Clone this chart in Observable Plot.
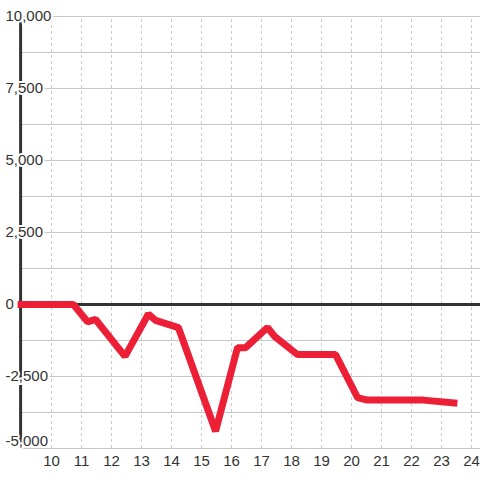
<!DOCTYPE html>
<html>
<head>
<meta charset="utf-8">
<script src="https://cdn.jsdelivr.net/npm/d3@7"></script>
<script src="https://cdn.jsdelivr.net/npm/@observablehq/plot@0.6"></script>
<style>
  html, body { margin: 0; padding: 0; background: #fff; }
</style>
</head>
<body>
<div id="chart"></div>
<script>
// Series (x = hour, y = value)
const xs = [8.87, 10.73, 11.2, 11.47, 12.45, 13.23, 13.47, 14.23, 15.47, 16.2, 16.47, 17.2, 17.43, 18.2, 19.47, 20.2, 20.53, 22.4, 23.53];
const ys = [0, 0, -600, -520, -1800, -330, -550, -800, -4400, -1500, -1500, -800, -1100, -1740, -1740, -3230, -3320, -3320, -3430];

// Axes
const xTicks = [10, 11, 12, 13, 14, 15, 16, 17, 18, 19, 20, 21, 22, 23, 24];
const yGrid = [-5000, -3750, -2500, -1250, 0, 1250, 2500, 3750, 5000, 6250, 7500, 8750, 10000];
const yLabels = [-5000, -2500, 0, 2500, 5000, 7500, 10000];
const xDomain = [8.3, 24.3];
const yDomain = [-5000, 10000];
const yAxisAt = 8.97;

const data = xs.map((x, i) => ({x, y: ys[i]}));
const fmt = d => d.toLocaleString("en-US");
const ink = "#333";

const chart = Plot.plot({
  width: 480,
  height: 480,
  marginLeft: 0,
  marginRight: 0,
  marginTop: 16,
  marginBottom: 32,
  style: {background: "#fff", fontFamily: "Liberation Sans, Arial, sans-serif", fontSize: "15px"},
  x: {domain: xDomain, axis: null},
  y: {domain: yDomain, axis: null},
  marks: [
    Plot.ruleY(yGrid, {x1: yAxisAt, x2: xDomain[1], stroke: "#c8c8c8", strokeWidth: 1}),
    Plot.ruleX(xTicks, {y1: yDomain[0], y2: yDomain[1], stroke: "#cccccc", strokeWidth: 1, strokeDasharray: "3,3"}),
    Plot.ruleX([yAxisAt], {y1: yDomain[0], y2: yDomain[1], stroke: ink, strokeWidth: 3}),
    Plot.ruleY([0], {x1: yAxisAt, x2: xDomain[1], stroke: ink, strokeWidth: 3}),
    Plot.line(data, {x: "x", y: "y", stroke: "#ec1f37", strokeWidth: 7, strokeLinejoin: "miter", strokeLinecap: "butt"}),
    Plot.text(yLabels.filter(d => d > yDomain[0]), {y: d => d, text: fmt, frameAnchor: "left", dx: 5, textAnchor: "start", lineAnchor: "middle", fill: ink, stroke: "white", strokeWidth: 4, fontSize: 15}),
    Plot.text(yLabels.filter(d => d === yDomain[0]), {y: d => d, text: fmt, frameAnchor: "left", dx: 5, dy: -7, textAnchor: "start", lineAnchor: "middle", fill: ink, stroke: "white", strokeWidth: 4, fontSize: 15}),
    Plot.text(xTicks, {x: d => d, text: d => String(d), frameAnchor: "bottom", dy: 13, lineAnchor: "middle", fill: ink, fontSize: 15})
  ]
});
document.getElementById("chart").appendChild(chart);
</script>
</body>
</html>
